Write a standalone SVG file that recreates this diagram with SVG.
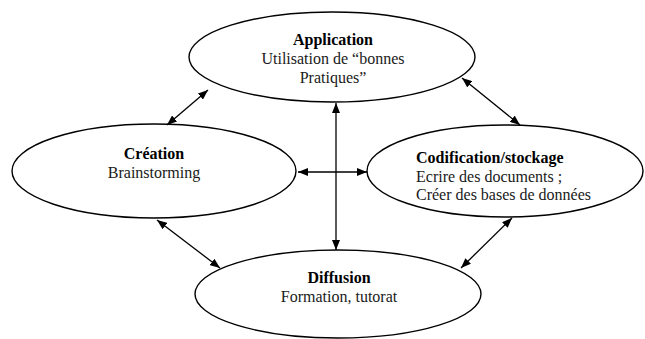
<svg xmlns="http://www.w3.org/2000/svg" width="645" height="339" viewBox="0 0 645 339">
<style>
.node ellipse{fill:#fff;stroke:#000;stroke-width:1.4}
text{font-family:"Liberation Serif","Times New Roman",serif;font-size:16px;fill:#1a1a1a}
.b{font-weight:bold;fill:#000}
.c{text-anchor:middle}
#connectors line{stroke:#000;stroke-width:1.3;marker-start:url(#ah);marker-end:url(#ah)}
</style>
<defs>
<marker id="ah" viewBox="0 0 10 8" refX="10" refY="4" markerWidth="10" markerHeight="8" markerUnits="userSpaceOnUse" orient="auto-start-reverse">
<path d="M0,0 L10,4 L0,8 Z" fill="#000"/>
</marker>
</defs>
<rect width="645" height="339" fill="#fff"/>
<g id="application" class="node">
<ellipse cx="332" cy="57" rx="143" ry="45"/>
<text class="b c" x="333" y="45">Application</text>
<text class="c" x="333" y="64">Utilisation de “bonnes</text>
<text class="c" x="333" y="83">Pratiques”</text>
</g>
<g id="creation" class="node">
<ellipse cx="154" cy="171" rx="142" ry="47"/>
<text class="b c" x="154" y="159">Création</text>
<text class="c" x="154" y="178">Brainstorming</text>
</g>
<g id="codification" class="node">
<ellipse cx="505" cy="171" rx="138" ry="46"/>
<text class="b" x="416" y="163">Codification/stockage</text>
<text x="416" y="182">Ecrire des documents ;</text>
<text x="416" y="200">Créer des bases de données</text>
</g>
<g id="diffusion" class="node">
<ellipse cx="338" cy="294" rx="143" ry="44"/>
<text class="b c" x="339" y="283">Diffusion</text>
<text class="c" x="339" y="302">Formation, tutorat</text>
</g>
<g id="connectors">
<line x1="167" y1="125" x2="208" y2="90"/>
<line x1="462" y1="78" x2="520" y2="125"/>
<line x1="512" y1="218" x2="461" y2="268"/>
<line x1="157" y1="220" x2="220" y2="268"/>
<line x1="336" y1="103" x2="336" y2="250"/>
<line x1="298" y1="172" x2="367" y2="172"/>
</g>
</svg>
